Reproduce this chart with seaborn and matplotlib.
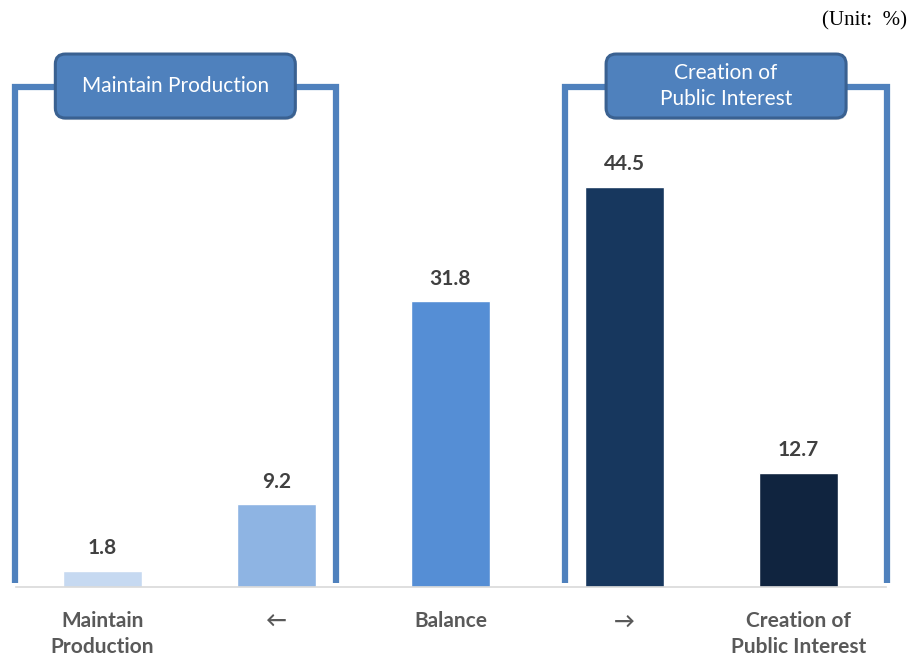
import matplotlib
matplotlib.use("Agg")
import matplotlib.pyplot as plt
import seaborn as sns
import pandas as pd
from matplotlib.patches import FancyBboxPatch
from matplotlib.transforms import IdentityTransform

categories = ["Maintain\nProduction", "←", "Balance", "→", "Creation of\nPublic Interest"]
values = [1.8, 9.2, 31.8, 44.5, 12.7]
bar_colors = ["#c6d9f1", "#8eb4e3", "#558ed5", "#17375e", "#10243f"]
group_labels = ["Maintain Production", "Creation of\nPublic Interest"]
unit_text = "(Unit:  %)"

sns.set_theme(style="white")
plt.rcParams["font.family"] = ["Lato", "DejaVu Sans"]

df = pd.DataFrame({"category": categories, "value": values})

fig = plt.figure(figsize=(9.18, 6.59), dpi=100)
W, H = 918, 659
ax = fig.add_axes([15.5 / W, 1 - 587 / H, 870 / W, 540 / H])

sns.barplot(data=df, x="category", y="value", hue="category",
            palette=bar_colors, legend=False, width=0.454, saturation=1, ax=ax)

ax.set_xlim(-0.5, 4.5)
ax.set_ylim(0, 60.07)
ax.set_xlabel("")
ax.set_ylabel("")
ax.set_yticks([])
for s in ["left", "right", "top"]:
    ax.spines[s].set_visible(False)
ax.spines["bottom"].set_color("#d9d9d9")
ax.spines["bottom"].set_linewidth(1.2)
ax.tick_params(axis="x", length=0, pad=17.5)
for lab in ax.get_xticklabels():
    lab.set_fontweight("bold")
    lab.set_fontsize(15)
    lab.set_color("#595959")
    lab.set_linespacing(1.38)

for cont in ax.containers:
    ax.bar_label(cont, fmt="%.1f", padding=9, fontsize=15, fontweight="bold", color="#404040")

# group brackets (data coordinates)
bracket_color = "#4f81bd"
px_x = 1 / 174.0
px_y = 1 / 8.99
brackets = [(-0.5 - 0.5 * px_x, 1.340), (2.659, 4.5 + 1.5 * px_x)]
top_y = (587 - 86.7) * px_y
bot_y = 4 * px_y
for (x0, x1) in brackets:
    ax.plot([x0, x0, x1, x1], [bot_y, top_y, top_y, bot_y], color=bracket_color,
            lw=4.5, solid_joinstyle="miter", solid_capstyle="butt", clip_on=False)

fig.canvas.draw()
box_w, box_h = 240, 64
for (x0, x1), lab in zip(brackets, group_labels):
    cx, cy = ax.transData.transform(((x0 + x1) / 2, (587 - 86) * px_y))
    shadow = FancyBboxPatch((cx - box_w / 2 + 1, cy - box_h / 2 - 2), box_w, box_h,
                            boxstyle="round,pad=0,rounding_size=10",
                            facecolor="#000000", alpha=0.12, lw=0,
                            transform=IdentityTransform(), zorder=4)
    fig.add_artist(shadow)
    patch = FancyBboxPatch((cx - box_w / 2, cy - box_h / 2), box_w, box_h,
                           boxstyle="round,pad=0,rounding_size=10",
                           facecolor="#4f81bd", edgecolor="#3a6191", lw=2.2,
                           transform=IdentityTransform(), zorder=5)
    fig.add_artist(patch)
    fig.text(cx / W, cy / H, lab, ha="center", va="center", color="white",
             fontsize=15, linespacing=1.35, zorder=6)

fig.text(907 / W, 1 - 21 / H, unit_text, ha="right", va="center",
         fontsize=15, color="black", family=["Liberation Serif", "DejaVu Serif"])

fig.savefig("out.png", dpi=100)
